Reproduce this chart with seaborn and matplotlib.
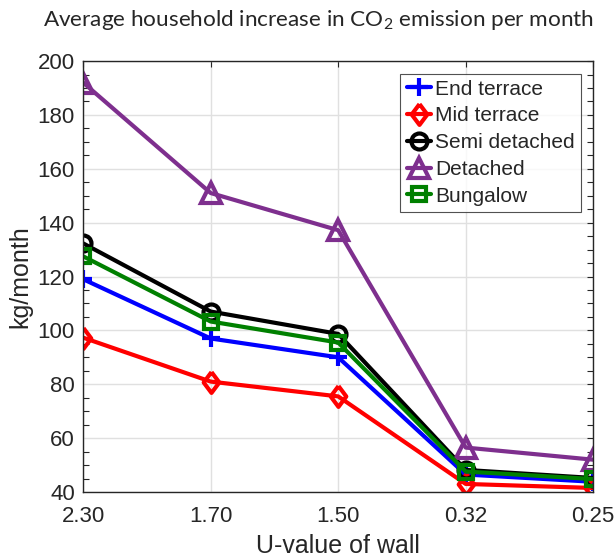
import pandas as pd
import matplotlib
matplotlib.use("Agg")
import matplotlib.pyplot as plt
from matplotlib.ticker import MultipleLocator
import seaborn as sns

u_values = ["2.30", "1.70", "1.50", "0.32", "0.25"]
end_terrace = [119, 97, 90, 46.5, 43.8]
mid_terrace = [97.3, 81, 75.5, 43, 41.5]
semi_detached = [132.3, 107, 98.7, 48.2, 45.2]
detached = [192, 151, 137.2, 56.5, 52]
bungalow = [127.5, 103.3, 95.5, 47.6, 44.8]

house_types = ["End terrace", "Mid terrace", "Semi detached", "Detached", "Bungalow"]
series = [end_terrace, mid_terrace, semi_detached, detached, bungalow]

rows = []
for name, vals in zip(house_types, series):
    for i, (u, v) in enumerate(zip(u_values, vals)):
        rows.append({"pos": i, "u": u, "type": name, "kg": v})
df = pd.DataFrame(rows)

colors = {"End terrace": "#0000FF", "Mid terrace": "#FF0000", "Semi detached": "#000000",
          "Detached": "#7E2F8E", "Bungalow": "#008000"}
diamond = [(0, 1), (0.75, 0), (0, -1), (-0.75, 0), (0, 1)]
markers = {"End terrace": "+", "Mid terrace": diamond, "Semi detached": "o",
           "Detached": "^", "Bungalow": "s"}
msizes = {"End terrace": 13, "Mid terrace": 15, "Semi detached": 11.5,
          "Detached": 14, "Bungalow": 9.5}

sns.set_style("white")
plt.rcParams["font.family"] = ["Liberation Sans", "DejaVu Sans"]
plt.rcParams["mathtext.fontset"] = "custom"
plt.rcParams["mathtext.rm"] = "Lato"

fig = plt.figure(figsize=(6.16, 5.6), dpi=100)
ax = fig.add_axes([0.135, 0.1214, 0.828, 0.7696])

sns.lineplot(data=df, x="pos", y="kg", hue="type", hue_order=house_types,
             palette=colors, lw=3, ax=ax, legend=False, sort=False)

# hollow markers like the original
for line, name in zip(ax.lines, house_types):
    c = colors[name]
    line.set_marker(markers[name])
    line.set_markersize(msizes[name])
    line.set_markerfacecolor("none")
    line.set_markeredgecolor(c)
    line.set_markeredgewidth(3)

ax.set_xlim(0, len(u_values) - 1)
ax.set_ylim(40, 200)
ax.set_xticks(range(len(u_values)))
ax.set_xticklabels(u_values)
ax.yaxis.set_major_locator(MultipleLocator(20))
ax.yaxis.set_minor_locator(MultipleLocator(5))
ax.grid(True, which="major", color="#e0e0e0", lw=1)
ax.set_axisbelow(True)
for s in ax.spines.values():
    s.set_color("#262626")
    s.set_linewidth(1)
ax.tick_params(axis="both", which="both", direction="in", top=True, right=True,
               colors="#262626", labelsize=16, length=4.5, width=0.8, pad=6)
ax.tick_params(axis="x", which="major", pad=10)
ax.tick_params(axis="y", which="minor", left=True, right=True, length=4)
ax.tick_params(axis="x", which="minor", bottom=False, top=False)

ax.set_xlabel("U-value of wall", fontsize=18, color="#262626", labelpad=5)
ax.set_ylabel("kg/month", fontsize=18, color="#262626", labelpad=4)
ax.set_title("Average household increase in CO$_2$ emission per month",
             fontsize=16.2, family="Lato", pad=25, x=0.461)

leg = ax.legend(handles=ax.lines[:5], labels=house_types, loc="upper right",
                fontsize=15, handlelength=1.15, handletextpad=0.2, borderpad=0.3,
                labelspacing=0.37, frameon=True, fancybox=False,
                borderaxespad=0.6)
leg.get_frame().set_edgecolor("#262626")
leg.get_frame().set_linewidth(0.8)

fig.savefig("out.png", dpi=100)
